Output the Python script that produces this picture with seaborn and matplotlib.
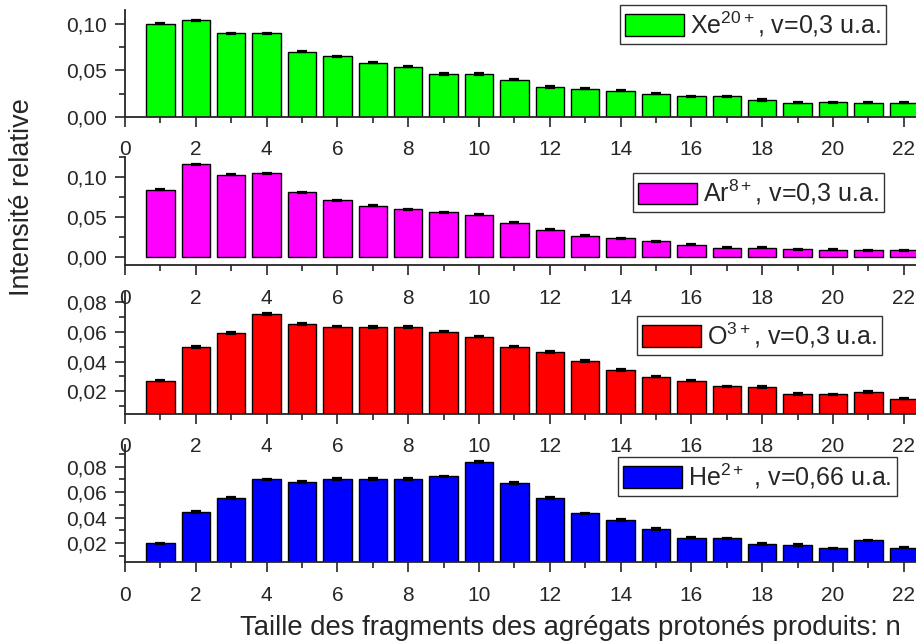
import numpy as np
import pandas as pd
import seaborn as sns
import matplotlib
matplotlib.use("Agg")
import matplotlib.pyplot as plt
from matplotlib.patches import Patch
from matplotlib.ticker import MultipleLocator, FuncFormatter

# fragment size n
n = list(range(1, 23))

xe = [0.100, 0.104, 0.090, 0.090, 0.070, 0.065, 0.058, 0.054, 0.046, 0.046, 0.040,
      0.032, 0.030, 0.028, 0.025, 0.022, 0.022, 0.018, 0.015, 0.0155, 0.015, 0.015]
ar = [0.084, 0.116, 0.103, 0.1045, 0.081, 0.071, 0.0645, 0.060, 0.056, 0.053, 0.043,
      0.0345, 0.027, 0.0235, 0.020, 0.0155, 0.012, 0.0118, 0.010, 0.0095, 0.009, 0.0085]
ox = [0.0272, 0.0499, 0.0592, 0.072, 0.0653, 0.0637, 0.0634, 0.0634, 0.0603, 0.0569, 0.0501,
      0.0466, 0.0405, 0.0344, 0.0299, 0.0272, 0.0234, 0.0229, 0.0182, 0.018, 0.0197, 0.015]
he = [0.0198, 0.0445, 0.0555, 0.070, 0.0679, 0.0703, 0.0705, 0.0705, 0.0724, 0.0837, 0.0671,
      0.0555, 0.0434, 0.0383, 0.0313, 0.0243, 0.0238, 0.0192, 0.0187, 0.016, 0.0222, 0.0165]

# estimated error bar half-heights
xe_err = 0.0006
ar_err = 0.0007
ox_err = 0.0005
he_err = 0.0006

labels = ["Xe$^{\\mathrm{20+}}$, v=0,3 u.a.",
          "Ar$^{\\mathrm{8+}}$, v=0,3 u.a.",
          "O$^{\\mathrm{3+}}$, v=0,3 u.a.",
          "He$^{\\mathrm{2+}}$ , v=0,66 u.a."]
colors = ["#00ff00", "#ff00ff", "#ff0000", "#0000ff"]

sns.set_style("ticks")
plt.rcParams["font.family"] = ["Liberation Sans", "DejaVu Sans"]
plt.rcParams["mathtext.fontset"] = "custom"
plt.rcParams["mathtext.rm"] = "Liberation Sans"
plt.rcParams["mathtext.it"] = "Liberation Sans:italic"

W, H = 916, 641
fig = plt.figure(figsize=(W / 100, H / 100), dpi=100)

# (values, err, top px, bottom px, ylim, major step, legend right px, legend top px)
panels = [
    (xe, xe_err, 10, 116.7, (0.0, 0.115), 0.05, 886, 4.7),
    (ar, ar_err, 157, 265, (-0.0096, 0.125), 0.05, 884, 173),
    (ox, ox_err, 292, 413.7, (0.0049, 0.087), 0.02, 882, 315.7),
    (he, he_err, 445, 562.3, (0.005, 0.097), 0.02, 897, 456.7),
]

left = 125
fmt = FuncFormatter(lambda v, p: f"{v:.2f}".replace(".", ","))
fmt_x = FuncFormatter(lambda v, p: f"{v:.0f}")

for (vals, err, top, bot, ylim, step, lr, lt), lab, col in zip(panels, labels, colors):
    ax = fig.add_axes([left / W, 1 - bot / H, (W - left) / W, (bot - top) / H])
    ax.set_facecolor("none")
    df = pd.DataFrame({"n": n, "val": vals})
    sns.barplot(data=df, x="n", y="val", native_scale=True, color=col,
                saturation=1, width=0.8, edgecolor="black", linewidth=1.0,
                errorbar=None, ax=ax)
    ax.errorbar(df["n"], df["val"], yerr=err, fmt="none", ecolor="black",
                elinewidth=1.2, capsize=3.5, capthick=1.6, zorder=5)
    ax.set_xlim(0, (W - left) / 35.4)
    ax.set_ylim(*ylim)
    ax.xaxis.set_major_locator(MultipleLocator(2))
    ax.xaxis.set_minor_locator(MultipleLocator(1))
    ax.xaxis.set_major_formatter(fmt_x)
    ax.yaxis.set_major_locator(MultipleLocator(step))
    ax.yaxis.set_minor_locator(MultipleLocator(step / 2))
    ax.yaxis.set_major_formatter(fmt)
    ax.tick_params(axis="both", which="major", direction="out", length=7,
                   width=1.2, labelsize=15)
    ax.tick_params(axis="x", which="major", pad=10)
    ax.tick_params(axis="y", which="major", pad=6)
    ax.tick_params(axis="both", which="minor", direction="out", length=4, width=1.2)
    ax.set_xlabel("")
    ax.set_ylabel("")
    for s in ["top", "right"]:
        ax.spines[s].set_visible(False)
    for s in ["left", "bottom"]:
        ax.spines[s].set_linewidth(1.3)
    leg = ax.legend(handles=[Patch(facecolor=col, edgecolor="black", linewidth=1.0)],
                    labels=[lab], loc="upper right",
                    bbox_to_anchor=(lr / W, 1 - lt / H), bbox_transform=fig.transFigure,
                    borderaxespad=0, fontsize=18, frameon=True, fancybox=False,
                    edgecolor="#333333", framealpha=1, handlelength=2.35,
                    handleheight=0.92, borderpad=0.2, handletextpad=0.25)
    leg.get_frame().set_linewidth(1.0)

fig.text(22 / W, 1 - 197 / H, "Intensité relative", rotation=90,
         ha="center", va="center", fontsize=19.5)
fig.text(570 / W, 1 - 628 / H, "Taille des fragments des agrégats protonés produits: n",
         ha="center", va="center", fontsize=19.8)

fig.savefig("out.png", dpi=100)
